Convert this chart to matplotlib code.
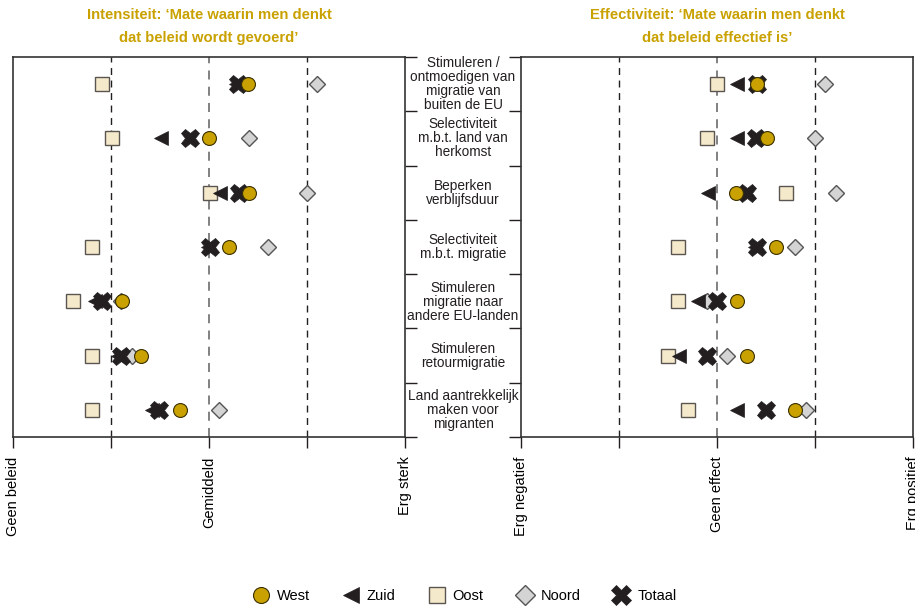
import numpy as np
import matplotlib
matplotlib.use("Agg")
import matplotlib.pyplot as plt
from matplotlib.lines import Line2D

plt.rcParams['font.family'] = ['Liberation Sans', 'DejaVu Sans']

# Beleidsterreinen (van boven naar onder)
categorieen = [
    "Stimuleren /\nontmoedigen van\nmigratie van\nbuiten de EU",
    "Selectiviteit\nm.b.t. land van\nherkomst",
    "Beperken\nverblijfsduur",
    "Selectiviteit\nm.b.t. migratie",
    "Stimuleren\nmigratie naar\nandere EU-landen",
    "Stimuleren\nretourmigratie",
    "Land aantrekkelijk\nmaken voor\nmigranten",
]

# Intensiteit: 0 = geen beleid, 2 = gemiddeld, 4 = erg sterk
int_west   = [2.40, 2.00, 2.41, 2.20, 1.11, 1.31, 1.70]
int_zuid   = [2.28, 1.51, 2.11, 1.99, 0.84, 1.07, 1.42]
int_oost   = [0.91, 1.01, 2.01, 0.81, 0.61, 0.81, 0.81]
int_noord  = [3.10, 2.41, 3.00, 2.60, 1.10, 1.21, 2.10]
int_totaal = [2.30, 1.81, 2.31, 2.01, 0.91, 1.10, 1.49]

# Effectiviteit: -2 = erg negatief, 0 = geen effect, 2 = erg positief
eff_west   = [0.41, 0.51, 0.19, 0.60, 0.20, 0.31, 0.80]
eff_zuid   = [0.20, 0.20, -0.09, 0.39, -0.19, -0.39, 0.20]
eff_oost   = [0.00, -0.10, 0.70, -0.40, -0.40, -0.50, -0.30]
eff_noord  = [1.10, 1.00, 1.21, 0.80, -0.10, 0.10, 0.91]
eff_totaal = [0.41, 0.40, 0.31, 0.41, 0.00, -0.10, 0.50]

goud = '#c9a100'
zwart = '#231f20'

stijlen = {
    'Oost':   dict(marker='s', ms=10, mfc='#f5e9cb', mec='#5a5550', mew=1.0),
    'Noord':  dict(marker='D', ms=8.5, mfc='#d4d4d4', mec='#555555', mew=1.0),
    'Zuid':   dict(marker='<', ms=10, mfc=zwart, mec=zwart, mew=0.5),
    'Totaal': dict(marker='X', ms=13, mfc=zwart, mec=zwart, mew=0.5),
    'West':   dict(marker='o', ms=10, mfc=goud, mec='#3a3000', mew=0.8),
}
volgorde = ['Oost', 'Noord', 'Zuid', 'Totaal', 'West']

fig = plt.figure(figsize=(9.15, 6.07), dpi=100)
ax1 = fig.add_axes([13/915, 1-437/607, 392/915, 380/607])
ax2 = fig.add_axes([521/915, 1-437/607, 392/915, 380/607])

y = np.arange(len(categorieen))


def opmaak(ax, xmin, labels, minor_kant):
    xs = [xmin + i for i in range(5)]
    ax.set_xlim(xs[0], xs[-1])
    ax.set_ylim(len(categorieen) - 0.5, -0.5)
    ax.axvline(xs[1], color=zwart, ls=(0, (5, 4)), lw=1.0, zorder=1)
    ax.axvline(xs[2], color='#777777', ls=(0, (5, 4)), lw=1.3, zorder=1)
    ax.axvline(xs[3], color=zwart, ls=(0, (5, 4)), lw=1.0, zorder=1)
    ax.set_xticks(xs)
    ax.set_xticklabels([labels[0], '', labels[1], '', labels[2]],
                       rotation=90, fontsize=10.5, va='top')
    ax.tick_params(axis='x', length=8, width=1.0, color=zwart, pad=6)
    ax.set_yticks([])
    ax.set_yticks(np.arange(-0.5, len(categorieen)), minor=True)
    if minor_kant == 'right':
        ax.tick_params(axis='y', which='minor', left=False, right=True,
                       length=8.5, width=1.0, color=zwart)
    else:
        ax.tick_params(axis='y', which='minor', left=True, right=False,
                       length=8.5, width=1.0, color=zwart)
    for s in ax.spines.values():
        s.set_color('#333333')
        s.set_linewidth(1.2)


def teken(ax, reeksen):
    for naam in volgorde:
        ax.plot(reeksen[naam], y, ls='none', zorder=3, clip_on=False,
                **stijlen[naam])


opmaak(ax1, 0, ['Geen beleid', 'Gemiddeld', 'Erg sterk'], 'right')
opmaak(ax2, -2, ['Erg negatief', 'Geen effect', 'Erg positief'], 'left')

teken(ax1, {'West': int_west, 'Zuid': int_zuid, 'Oost': int_oost,
            'Noord': int_noord, 'Totaal': int_totaal})
teken(ax2, {'West': eff_west, 'Zuid': eff_zuid, 'Oost': eff_oost,
            'Noord': eff_noord, 'Totaal': eff_totaal})

# categorie-labels in de middenkolom
for i, lab in enumerate(categorieen):
    fig.text(463/915, 1 - (84 + i * 54.4) / 607, lab, ha='center', va='center',
             fontsize=9.8, linespacing=1.0, color=zwart)

fig.text(209/915, 1 - 15/607, "Intensiteit: ‘Mate waarin men denkt",
         ha='center', va='center', fontsize=10.6, fontweight='bold', color=goud)
fig.text(209/915, 1 - 38/607, "dat beleid wordt gevoerd’",
         ha='center', va='center', fontsize=10.6, fontweight='bold', color=goud)
fig.text(717/915, 1 - 15/607, "Effectiviteit: ‘Mate waarin men denkt",
         ha='center', va='center', fontsize=10.6, fontweight='bold', color=goud)
fig.text(717/915, 1 - 38/607, "dat beleid effectief is’",
         ha='center', va='center', fontsize=10.6, fontweight='bold', color=goud)

leg_stijl = {n: dict(stijlen[n]) for n in stijlen}
for n in leg_stijl:
    leg_stijl[n]['ms'] = leg_stijl[n]['ms'] * 1.15
handles = [Line2D([], [], ls='none', **leg_stijl[n])
           for n in ['West', 'Zuid', 'Oost', 'Noord', 'Totaal']]
fig.legend(handles, ['West', 'Zuid', 'Oost', 'Noord', 'Totaal'],
           loc='center', bbox_to_anchor=(463/915, 1 - 596/607), ncol=5,
           frameon=False, fontsize=10.5, handletextpad=0.3, columnspacing=2.0,
           handlelength=1.6)

fig.savefig('out.png', dpi=100)
